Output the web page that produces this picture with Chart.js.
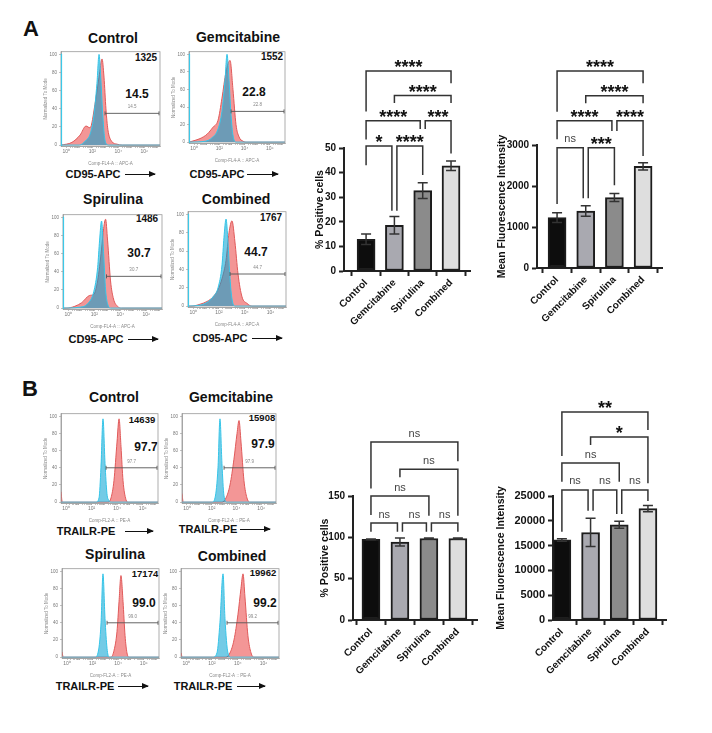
<!DOCTYPE html>
<html>
<head>
<meta charset="utf-8">
<script src="https://cdn.jsdelivr.net/npm/chart.js@4.4.0/dist/chart.umd.min.js"></script>
<style>
  body { margin: 0; width: 712px; height: 733px; position: relative; overflow: hidden; background: #fff;
         font-family: "Liberation Sans", Arial, sans-serif; color: #111; }
  .t { position: absolute; transform: translate(-50%, -50%); white-space: nowrap; font-weight: bold; }
  .panel { font-size: 22px; }
  .title { font-size: 14px; }
  .count { font-size: 10px; }
  .count.b { font-size: 9.5px; }
  .pct { font-size: 12px; }
  .marker { font-size: 11px; }
  .arrow { position: absolute; height: 0; border-top: 1.4px solid #111; }
  .arrow::after { content: ''; position: absolute; right: -1px; top: -4.2px;
                  border-left: 7px solid #111; border-top: 3.5px solid transparent; border-bottom: 3.5px solid transparent; }
</style>
</head>
<body>

<div class="t panel" style="left:31px;top:29px">A</div>
<div class="t panel" style="left:30px;top:389px">B</div>

<!-- panel A histogram labels -->
<div class="t title" style="left:113px;top:38px">Control</div>
<div class="t title" style="left:238px;top:37px">Gemcitabine</div>
<div class="t title" style="left:113px;top:199px">Spirulina</div>
<div class="t title" style="left:236px;top:199px">Combined</div>
<div class="t count" style="left:146px;top:57px">1325</div>
<div class="t count" style="left:272px;top:56px">1552</div>
<div class="t count" style="left:147px;top:218px">1486</div>
<div class="t count" style="left:271px;top:217px">1767</div>
<div class="t pct" style="left:137px;top:94px">14.5</div>
<div class="t pct" style="left:254px;top:92px">22.8</div>
<div class="t pct" style="left:139px;top:253px">30.7</div>
<div class="t pct" style="left:256px;top:252px">44.7</div>
<div class="t marker" style="left:93px;top:174px">CD95-APC</div>
<div class="arrow" style="left:125px;top:174px;width:30px"></div>
<div class="t marker" style="left:217px;top:174px">CD95-APC</div>
<div class="arrow" style="left:247px;top:174px;width:31px"></div>
<div class="t marker" style="left:96px;top:339px">CD95-APC</div>
<div class="arrow" style="left:128px;top:339px;width:30px"></div>
<div class="t marker" style="left:220px;top:338px">CD95-APC</div>
<div class="arrow" style="left:252px;top:338px;width:30px"></div>

<!-- panel B histogram labels -->
<div class="t title" style="left:114px;top:397px">Control</div>
<div class="t title" style="left:231px;top:397px">Gemcitabine</div>
<div class="t title" style="left:115px;top:554px">Spirulina</div>
<div class="t title" style="left:232px;top:556px">Combined</div>
<div class="t count b" style="left:142px;top:419px">14639</div>
<div class="t count b" style="left:262px;top:417px">15908</div>
<div class="t count b" style="left:145px;top:573px">17174</div>
<div class="t count b" style="left:263px;top:572px">19962</div>
<div class="t pct" style="left:146px;top:447px">97.7</div>
<div class="t pct" style="left:263px;top:444px">97.9</div>
<div class="t pct" style="left:144px;top:603px">99.0</div>
<div class="t pct" style="left:265px;top:603px">99.2</div>
<div class="t marker" style="left:86px;top:531px">TRAILR-PE</div>
<div class="arrow" style="left:125px;top:531px;width:28px"></div>
<div class="t marker" style="left:208px;top:529px">TRAILR-PE</div>
<div class="arrow" style="left:240px;top:529px;width:30px"></div>
<div class="t marker" style="left:85px;top:686px">TRAILR-PE</div>
<div class="arrow" style="left:118px;top:686px;width:30px"></div>
<div class="t marker" style="left:203px;top:686px">TRAILR-PE</div>
<div class="arrow" style="left:237px;top:686px;width:28px"></div>

<script>
// ---- bar chart data ----
const groups = ['Control', 'Gemcitabine', 'Spirulina', 'Combined'];
const barFill = ['#0d0d0d', '#a9a9b0', '#8b8b8b', '#dedede'];

const aPosMean = [12.9, 18.6, 32.7, 42.8];
const aPosSem = [2.1, 3.6, 3.2, 1.9];
const aMfiMean = [1230, 1390, 1720, 2480];
const aMfiSem = [120, 130, 100, 90];
const bPosMean = [97.6, 94.4, 98.6, 98.6];
const bPosSem = [0.5, 4.8, 0.5, 0.5];
const bMfiMean = [16150, 17650, 19200, 22450];
const bMfiSem = [250, 2850, 700, 650];

// significance brackets: [from, to, line level, left leg end, right leg end, label] (y units)
const aPosSig = [
    [0, 3, 81.3, 64.8, 76.3, '****'],
    [1, 3, 71.3, 68.3, 68.3, '****'],
    [0, 2, 61.1, 53.5, 57.7, '****'],
    [2, 3, 61.1, 57.7, 47.8, '***'],
    [0, 1, 50.8, 43, 24.5, '*'],
    [1, 2, 50.8, 24.5, 39, '****']
];
const aMfiSig = [
    [0, 3, 4805, 3813, 4505, '****'],
    [1, 3, 4203, 4016, 4016, '****'],
    [0, 2, 3593, 3138, 3341, '****'],
    [2, 3, 3593, 3341, 2732, '****'],
    [0, 1, 2935, 1560, 1700, 'ns'],
    [1, 2, 2935, 1700, 2020, '***']
];
const bPosSig = [
    [0, 3, 215.3, 159, 192, 'ns'],
    [1, 3, 182.3, 172.6, 126, 'ns'],
    [0, 2, 150, 127, 126, 'ns'],
    [0, 1, 117.3, 106.8, 106.8, 'ns'],
    [1, 2, 117.3, 106.8, 106.8, 'ns'],
    [2, 3, 117.3, 106.8, 106.8, 'ns']
];
const bMfiSig = [
    [0, 3, 41935, 33065, 38306, '**'],
    [1, 3, 36895, 35282, 27560, '*'],
    [0, 2, 31653, 27890, 27890, 'ns'],
    [0, 1, 26210, 17800, 22040, 'ns'],
    [1, 2, 26210, 22040, 21370, 'ns'],
    [2, 3, 26210, 21370, 24000, 'ns']
];

// ---- histogram data: [log10 channel, % of mode] ----
const aCtrlIso = [[-0.4,0],[1.0,0],[1.5,5],[1.83,12],[2.1,30],[2.36,68],[2.52,100],[2.65,75],[2.8,35],[2.95,8],[3.1,1],[3.3,0],[7.2,0]];
const aCtrlStain = [[-0.4,0],[0.44,3],[1.06,11],[1.52,21],[1.83,19],[2.21,45],[2.52,75],[2.75,95],[2.9,75],[3.05,40],[3.2,17],[3.5,4],[3.9,1],[4.3,0],[7.2,0]];
const aGemIso = [[-0.4,0],[0.87,1],[1.42,5],[1.9,15],[2.21,35],[2.45,70],[2.61,100],[2.77,70],[2.93,30],[3.08,8],[3.32,0],[7.2,0]];
const aGemStain = [[-0.4,0],[-0.16,1],[0.47,4],[1.03,9],[1.5,17],[1.9,25],[2.21,50],[2.53,80],[2.85,93],[3.08,60],[3.32,20],[3.56,6],[3.88,1],[4.2,0],[7.2,0]];
const aSpirIso = [[-0.4,0],[0.89,1],[1.5,5],[1.96,18],[2.26,45],[2.41,75],[2.56,96],[2.72,60],[2.87,20],[3.02,5],[3.25,0],[7.2,0]];
const aSpirStain = [[-0.4,0],[-0.1,0],[0.51,2],[1.04,6],[1.65,14],[1.96,15],[2.26,30],[2.56,65],[2.72,88],[2.87,98],[3.02,75],[3.25,30],[3.48,10],[3.78,2],[4.08,0],[7.2,0]];
const aCombIso = [[-0.4,0],[0.53,1],[1.07,4],[1.54,10],[1.93,20],[2.24,45],[2.39,75],[2.55,95],[2.7,70],[2.86,30],[3.01,8],[3.24,0],[7.2,0]];
const aCombStain = [[-0.4,0],[-0.09,0],[0.53,2],[1.07,5],[1.54,10],[1.93,18],[2.24,30],[2.55,50],[2.78,80],[3.01,93],[3.24,70],[3.48,35],[3.79,10],[4.17,3],[4.56,0],[7.2,0]];

const bCtrlIso = [[-0.4,0],[2.34,0],[2.58,5],[2.73,40],[2.89,97],[3.05,45],[3.2,10],[3.36,2],[3.52,0],[7.2,0]];
const bCtrlStain = [[-0.4,12],[-0.3,0],[3.28,0],[3.52,5],[3.75,25],[3.99,70],[4.15,97],[4.3,65],[4.46,25],[4.69,3],[4.85,0],[7.2,0]];
const bGemIso = [[-0.4,0],[2.03,0],[2.27,5],[2.51,40],[2.67,97],[2.83,45],[2.99,8],[3.24,0],[7.2,0]];
const bGemStain = [[-0.4,10],[-0.3,0],[2.83,0],[3.16,5],[3.48,20],[3.8,50],[4.05,80],[4.21,95],[4.37,70],[4.61,25],[4.85,5],[5.1,0],[7.2,0]];
const bSpirIso = [[-0.4,0],[2.19,0],[2.42,5],[2.66,40],[2.81,97],[2.97,45],[3.13,10],[3.28,0],[7.2,0]];
const bSpirStain = [[-0.4,6],[-0.3,0],[3.44,0],[3.68,8],[3.91,30],[4.07,65],[4.22,95],[4.38,65],[4.54,25],[4.69,5],[4.85,0],[7.2,0]];
const bCombIso = [[-0.4,0],[2.08,0],[2.39,5],[2.62,40],[2.86,97],[3.01,45],[3.24,5],[3.48,0],[7.2,0]];
const bCombStain = [[-0.4,5],[-0.3,0],[3.09,0],[3.4,5],[3.71,20],[4.02,50],[4.25,80],[4.41,97],[4.56,70],[4.79,25],[5.03,5],[5.26,0],[7.2,0]];

// gates: start (log10), level, label
const aGates = [[2.98, 35, '14.5'], [2.93, 35, '22.8'], [2.94, 35, '30.7'], [2.86, 35, '44.7']];
const bGates = [[3.13, 40, '97.7'], [3.0, 40, '97.9'], [3.13, 40, '99.0'], [3.17, 40, '99.2']];

// histogram axis ticks
const decadeTicks = [0, 2, 4, 6];
const decadeText = ['10\u2070', '10\u00b2', '10\u2074', '10\u2076'];
const histYTicks = [0, 20, 40, 60, 80, 100];

const minorTicks = [];
for (let d = 0; d <= 6; d++) {
    for (let k = 1; k <= 9; k++) minorTicks.push(d + Math.log10(k));
}
minorTicks.push(7);

// ---- plugins ----
const framePlugin = {
    id: 'frame',
    afterDatasetsDraw(chart, args, opts) {
        if (!opts.on) return;
        const a = chart.chartArea, ctx = chart.ctx;
        ctx.save();
        ctx.strokeStyle = '#9a9a9a';
        ctx.lineWidth = 0.8;
        ctx.strokeRect(a.left, a.top, a.right - a.left, a.bottom - a.top);
        if (opts.left) {
            ctx.strokeStyle = opts.left;
            ctx.lineWidth = 1.2;
            ctx.beginPath();
            ctx.moveTo(a.left + 0.5, a.top + 2);
            ctx.lineTo(a.left + 0.5, a.bottom);
            ctx.stroke();
        }
        ctx.restore();
    }
};

const gatePlugin = {
    id: 'gate',
    afterDatasetsDraw(chart, args, opts) {
        if (!opts.gate) return;
        const { ctx, scales: { x, y }, chartArea } = chart;
        const [start, level, label] = opts.gate;
        const x1 = x.getPixelForValue(start), x2 = chartArea.right - 1;
        const py = y.getPixelForValue(level);
        ctx.save();
        ctx.strokeStyle = '#555';
        ctx.lineWidth = 0.9;
        ctx.beginPath();
        ctx.moveTo(x1, py); ctx.lineTo(x2, py);
        ctx.moveTo(x1, py - 2); ctx.lineTo(x1, py + 2);
        ctx.moveTo(x2, py - 2); ctx.lineTo(x2, py + 2);
        ctx.stroke();
        ctx.fillStyle = '#888';
        ctx.font = '4.5px "Liberation Sans"';
        ctx.textAlign = 'center';
        ctx.fillText(label, (x1 + x2) / 2, py - 5);
        ctx.restore();
    }
};

const errorBars = {
    id: 'errbars',
    afterDatasetsDraw(chart, args, opts) {
        if (!opts.sem) return;
        const { ctx, scales: { x, y } } = chart;
        ctx.save();
        ctx.strokeStyle = '#333';
        ctx.lineWidth = 1.5;
        chart.data.datasets[0].data.forEach((p, i) => {
            const px = x.getPixelForValue(p.x);
            const top = y.getPixelForValue(p.y + opts.sem[i]);
            const bot = y.getPixelForValue(p.y - opts.sem[i]);
            ctx.beginPath();
            ctx.moveTo(px, top); ctx.lineTo(px, bot);
            ctx.moveTo(px - 5, top); ctx.lineTo(px + 5, top);
            ctx.moveTo(px - 5, bot); ctx.lineTo(px + 5, bot);
            ctx.stroke();
        });
        ctx.restore();
    }
};

const sigPlugin = {
    id: 'sig',
    afterDraw(chart, args, opts) {
        if (!opts.items) return;
        const { ctx, scales: { x, y } } = chart;
        ctx.save();
        ctx.strokeStyle = '#333';
        ctx.lineWidth = 1.5;
        ctx.textAlign = 'center';
        opts.items.forEach(b => {
            const [i, j, lvl, le, re, label] = b;
            // nudge legs apart where two brackets on one level share a bar
            const sameRow = opts.items.filter(o => o !== b && o[2] === lvl);
            let x1 = x.getPixelForValue(i), x2 = x.getPixelForValue(j);
            if (sameRow.some(o => o[1] === i)) x1 += 2.5;
            if (sameRow.some(o => o[0] === j)) x2 -= 2.5;
            const py = y.getPixelForValue(lvl);
            ctx.beginPath();
            ctx.moveTo(x1, y.getPixelForValue(le));
            ctx.lineTo(x1, py);
            ctx.lineTo(x2, py);
            ctx.lineTo(x2, y.getPixelForValue(re));
            ctx.stroke();
            if (label === 'ns') {
                ctx.font = '11px "Liberation Sans"';
                ctx.fillStyle = '#444';
                ctx.fillText(label, (x1 + x2) / 2, py - 5.5);
            } else {
                ctx.font = 'bold 18px "Liberation Sans"';
                ctx.fillStyle = '#111';
                ctx.fillText(label, (x1 + x2) / 2, py + 2);
            }
        });
        ctx.restore();
    }
};

Chart.register(framePlugin, gatePlugin, errorBars, sigPlugin);
Chart.defaults.font.family = '"Liberation Sans", Arial, sans-serif';

function makeCanvas(x, y, w, h) {
    const c = document.createElement('canvas');
    c.width = w;
    c.height = h;
    c.style.cssText = `position:absolute;left:${x}px;top:${y}px;width:${w}px;height:${h}px`;
    document.body.appendChild(c);
    return c;
}

const toPoints = arr => arr.map(p => ({ x: p[0], y: p[1] }));

// Flow histogram (box = plot frame in page pixels)
function histChart(box, iso, stain, gate, xTitle, leftColor) {
    const yw = 18, xh = 21, pt = 3, pr = 3;
    const cv = makeCanvas(box.x - yw, box.y - pt, box.w + yw + pr, box.h + pt + xh);
    const thin = { drawOnChartArea: false, tickLength: 2, color: '#999', lineWidth: 0.6 };
    new Chart(cv, {
        type: 'line',
        data: {
            datasets: [{
                data: toPoints(iso),
                borderColor: '#35c5e8',
                backgroundColor: 'rgba(0, 160, 210, 0.55)',
                borderWidth: 1,
                fill: 'origin',
                pointRadius: 0,
                cubicInterpolationMode: 'monotone',
                order: 0
            }, {
                data: toPoints(stain),
                borderColor: '#e05a5a',
                backgroundColor: 'rgba(238, 105, 105, 0.7)',
                borderWidth: 1,
                fill: 'origin',
                pointRadius: 0,
                cubicInterpolationMode: 'monotone',
                order: 1
            }]
        },
        options: {
            responsive: false,
            animation: false,
            devicePixelRatio: 1,
            events: [],
            layout: { padding: { top: pt, right: pr, left: 0, bottom: 0 } },
            plugins: {
                legend: { display: false },
                tooltip: { enabled: false },
                frame: { on: true, left: leftColor },
                gate: { gate: gate }
            },
            scales: {
                x: {
                    type: 'linear', min: -0.4, max: 7.2,
                    afterBuildTicks: s => { s.ticks = minorTicks.map(v => ({ value: v })); },
                    afterFit: s => { s.height = xh; },
                    ticks: {
                        autoSkip: false, maxRotation: 0, padding: 1,
                        font: { size: 5 }, color: '#777',
                        callback: v => {
                            const k = decadeTicks.indexOf(v);
                            return k >= 0 ? decadeText[k] : '';
                        }
                    },
                    grid: thin,
                    border: { color: '#999', width: 0.8 },
                    title: { display: true, text: xTitle, font: { size: 4.5 }, color: '#888', padding: { top: 1, bottom: 1 } }
                },
                y: {
                    min: -1, max: 103,
                    afterBuildTicks: s => { s.ticks = histYTicks.map(v => ({ value: v })); },
                    afterFit: s => { s.width = yw; },
                    ticks: { font: { size: 4.5 }, color: '#777', padding: 2 },
                    grid: thin,
                    border: { color: '#999', width: 0.8 },
                    title: { display: true, text: 'Normalized To Mode', font: { size: 4.5 }, color: '#888', padding: { top: 0, bottom: 2 } }
                }
            }
        }
    });
}

// Prism-style bar chart; r gives the axis frame in page pixels
function barChart(r, means, sems, yMax, yStep, yTitle, sig, tickSize) {
    const yw = r.axisX - r.left;
    const padTop = r.areaTop - r.top;
    const xh = r.top + r.h - r.areaBottom;
    const padRight = r.left + r.w - r.areaRight;
    const cv = makeCanvas(r.left, r.top, r.w, r.h);
    const axisGrid = { drawOnChartArea: false, tickLength: 5, tickWidth: 2, tickColor: '#222' };
    new Chart(cv, {
        type: 'bar',
        data: {
            datasets: [{
                data: means.map((m, i) => ({ x: i, y: m })),
                backgroundColor: barFill,
                borderColor: '#1c1c1c',
                borderWidth: 2,
                borderSkipped: false,
                barThickness: 18
            }]
        },
        options: {
            responsive: false,
            animation: false,
            devicePixelRatio: 1,
            events: [],
            layout: { padding: { top: padTop, right: padRight, left: 0, bottom: 0 } },
            plugins: {
                legend: { display: false },
                tooltip: { enabled: false },
                errbars: { sem: sems },
                sig: { items: sig }
            },
            scales: {
                x: {
                    type: 'linear', min: r.xMin, max: r.xMax, offset: false,
                    afterBuildTicks: s => { s.ticks = groups.map((g, i) => ({ value: i })); },
                    afterFit: s => { s.height = xh; },
                    ticks: {
                        autoSkip: false, minRotation: 45, maxRotation: 45, padding: 1,
                        font: { size: 10, weight: 'bold' }, color: '#111',
                        callback: v => groups[v]
                    },
                    grid: axisGrid,
                    border: { color: '#222', width: 2 }
                },
                y: {
                    min: 0, max: yMax,
                    ticks: {
                        stepSize: yStep, font: { size: tickSize, weight: 'bold' }, color: '#111', padding: 3,
                        callback: v => String(v)
                    },
                    afterFit: s => { s.width = yw; },
                    grid: axisGrid,
                    border: { color: '#222', width: 2 },
                    title: { display: true, text: yTitle, font: { size: 10.5, weight: 'bold' }, color: '#111', padding: { top: 0, bottom: 2 } }
                }
            }
        }
    });
}

// panel A histograms
histChart({ x: 61, y: 50, w: 99, h: 96 }, aCtrlIso, aCtrlStain, aGates[0], 'Comp-FL4-A :: APC-A', '#3cc8e8');
histChart({ x: 189, y: 50, w: 96, h: 93 }, aGemIso, aGemStain, aGates[1], 'Comp-FL4-A :: APC-A', '#3cc8e8');
histChart({ x: 63, y: 213, w: 99, h: 96 }, aSpirIso, aSpirStain, aGates[2], 'Comp-FL4-A :: APC-A', '#3cc8e8');
histChart({ x: 188, y: 210, w: 98, h: 97 }, aCombIso, aCombStain, aGates[3], 'Comp-FL4-A :: APC-A', '#3cc8e8');

// panel B histograms
histChart({ x: 61, y: 412, w: 97, h: 91 }, bCtrlIso, bCtrlStain, bGates[0], 'Comp-FL2-A :: PE-A', null);
histChart({ x: 182, y: 412, w: 94, h: 91 }, bGemIso, bGemStain, bGates[1], 'Comp-FL2-A :: PE-A', null);
histChart({ x: 62, y: 567, w: 97, h: 91 }, bSpirIso, bSpirStain, bGates[2], 'Comp-FL2-A :: PE-A', null);
histChart({ x: 181, y: 567, w: 98, h: 91 }, bCombIso, bCombStain, bGates[3], 'Comp-FL2-A :: PE-A', null);

// bar charts
barChart({ left: 314, top: 50, w: 164, h: 290, axisX: 344, areaTop: 148, areaBottom: 271, areaRight: 470, xMin: -0.78, xMax: 3.67 },
    aPosMean, aPosSem, 50, 10, '% Positive cells', aPosSig, 10);
barChart({ left: 496, top: 50, w: 174, h: 290, axisX: 537, areaTop: 145, areaBottom: 268, areaRight: 662, xMin: -0.7, xMax: 3.66 },
    aMfiMean, aMfiSem, 3000, 1000, 'Mean Fluorescence Intensity', aMfiSig, 10);
barChart({ left: 319, top: 390, w: 166, h: 310, axisX: 353, areaTop: 496, areaBottom: 620, areaRight: 477, xMin: -0.62, xMax: 3.66 },
    bPosMean, bPosSem, 150, 50, '% Positive cells', bPosSig, 10);
barChart({ left: 495, top: 390, w: 179, h: 310, axisX: 553, areaTop: 496, areaBottom: 620, areaRight: 666, xMin: -0.31, xMax: 3.63 },
    bMfiMean, bMfiSem, 25000, 5000, 'Mean Fluorescence Intensity', bMfiSig, 11);
</script>
</body>
</html>
